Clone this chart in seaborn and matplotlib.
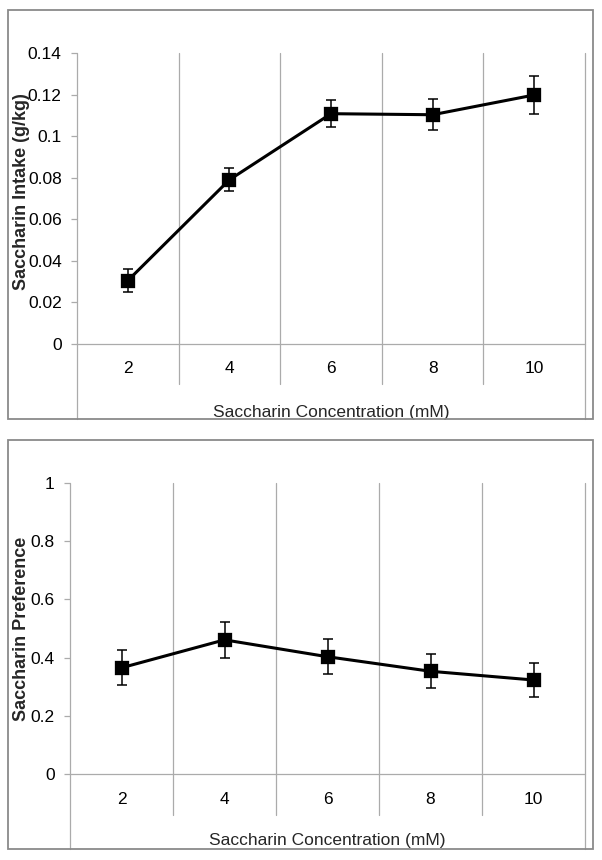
import numpy as np
import pandas as pd
import matplotlib
matplotlib.use("Agg")
import matplotlib.pyplot as plt
from matplotlib.patches import Rectangle
import seaborn as sns

# ---- data ----
concentrations = ["2", "4", "6", "8", "10"]
intake_mean = [0.0305, 0.0790, 0.1108, 0.1103, 0.1198]
intake_err = [0.0055, 0.0055, 0.0065, 0.0075, 0.0090]
pref_mean = [0.365, 0.461, 0.403, 0.353, 0.323]
pref_err = [0.060, 0.062, 0.061, 0.059, 0.059]
intake_ticks = [0, 0.02, 0.04, 0.06, 0.08, 0.1, 0.12, 0.14]
intake_ticklabels = ["0", "0.02", "0.04", "0.06", "0.08", "0.1", "0.12", "0.14"]
pref_ticks = [0, 0.2, 0.4, 0.6, 0.8, 1.0]
pref_ticklabels = ["0", "0.2", "0.4", "0.6", "0.8", "1"]
xlabel = "Saccharin Concentration (mM)"
ylabel_top = "Saccharin Intake (g/kg)"
ylabel_bottom = "Saccharin Preference"

sns.set_style("white")
plt.rcParams["font.family"] = ["Liberation Sans", "DejaVu Sans"]

W, H = 602, 860
fig = plt.figure(figsize=(W / 100, H / 100), dpi=100)
fig.patch.set_facecolor("white")

GRID = "#ababab"
FRAME = "#8a8a8a"
FS = 12.5


def px_rect(l, t, r, b):
    return [l / W, 1 - b / H, (r - l) / W, (b - t) / H]


def panel(ax_rect, frame_rect, means, errs, ticks, ticklabels, ylim, ylab,
          ylab_xy, below_sep, below_edge, xlab_y, tick_pad_x):
    fl, ft, fr, fb = frame_rect
    fig.add_artist(Rectangle((fl / W, 1 - fb / H), (fr - fl) / W, (fb - ft) / H,
                             transform=fig.transFigure, fill=False,
                             edgecolor=FRAME, linewidth=1.3, zorder=10))
    ax = fig.add_axes(px_rect(*ax_rect))
    df = pd.DataFrame({"conc": concentrations, "val": means})
    sns.pointplot(data=df, x="conc", y="val", order=concentrations,
                  color="black", markers="s", markersize=8.5, linewidth=2.2,
                  errorbar=None, ax=ax, zorder=5)
    pos = np.arange(len(concentrations))
    ax.errorbar(pos, means, yerr=errs, fmt="none", ecolor="black",
                elinewidth=1.1, capsize=3.5, capthick=1.1, zorder=4)
    ax.set_xlim(-0.5, len(concentrations) - 0.5)
    ax.set_ylim(*ylim)
    for s in ax.spines.values():
        s.set_visible(False)
    for xv in (-0.5, len(concentrations) - 0.5):
        ax.axvline(xv, ymin=below_edge, ymax=1, color=GRID, lw=0.9,
                   clip_on=False, zorder=1)
    for xv in pos[:-1] + 0.5:
        ax.axvline(xv, ymin=below_sep, ymax=1, color=GRID, lw=0.9,
                   clip_on=False, zorder=1)
    ax.axhline(0, color=GRID, lw=0.9, zorder=1, clip_on=False)
    ax.set_yticks(ticks)
    ax.set_yticklabels(ticklabels)
    ax.tick_params(axis="y", left=True, length=4, width=0.9, color=GRID,
                   labelsize=FS, pad=7, labelcolor="black")
    ax.tick_params(axis="x", bottom=False, length=0, labelsize=FS,
                   pad=tick_pad_x, labelcolor="black")
    ax.set_xlabel(xlabel, fontsize=FS)
    ax.xaxis.set_label_coords(0.5, xlab_y)
    ax.xaxis.label.set_va("center")
    ax.set_ylabel(ylab, fontsize=13, fontweight="bold")
    ax.yaxis.set_label_coords(*ylab_xy)
    ax.yaxis.label.set_va("center")
    ax.grid(False)
    return ax


# top panel
panel((77, 53, 585, 344), (8, 10, 593, 419), intake_mean, intake_err,
      intake_ticks, intake_ticklabels, (0, 0.14), ylabel_top,
      ((22 - 77) / 508, (344 - 192) / 291), -40 / 291, -75 / 291,
      (344 - 412) / 291, 12.5)

# bottom panel
panel((70, 483, 585, 774), (8, 440, 593, 849), pref_mean, pref_err,
      pref_ticks, pref_ticklabels, (0, 1.0), ylabel_bottom,
      ((22 - 70) / 515, 0.5), -41 / 291, -75 / 291,
      (774 - 840) / 291, 13)

fig.savefig("out.png", dpi=100, facecolor="white")
